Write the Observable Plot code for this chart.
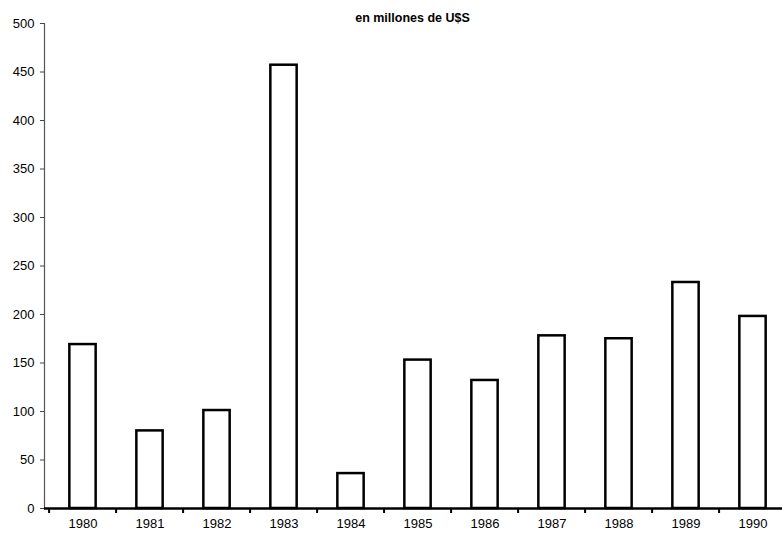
<!DOCTYPE html>
<html>
<head>
<meta charset="utf-8">
<script src="https://cdn.jsdelivr.net/npm/d3@7"></script>
<script src="https://cdn.jsdelivr.net/npm/@observablehq/plot@0.6"></script>
<style>
  html, body { margin: 0; padding: 0; background: #fff; overflow: hidden; }
  #chart svg { display: block; max-width: none !important; }
</style>
</head>
<body>
<div id="chart"></div>
<script>
const years = ["1980","1981","1982","1983","1984","1985","1986","1987","1988","1989","1990"];
const values = [169, 80, 101, 457, 36, 153, 132, 178, 175, 233, 198];
const yTicks = [0, 50, 100, 150, 200, 250, 300, 350, 400, 450, 500];
const title = "en millones de U$S";

const data = years.map((y, i) => ({year: y, value: values[i]}));

const W = 790, H = 541, ML = 44, MR = 0, MT = 23, MB = 33;
const step = (W - ML - MR) / years.length;

const chart = Plot.plot({
  width: W,
  height: H,
  marginLeft: ML,
  marginRight: MR,
  marginTop: MT,
  marginBottom: MB,
  style: {fontFamily: "'Liberation Sans', Arial, sans-serif", fontSize: "13px", color: "#000", background: "#fff"},
  x: {domain: years, padding: 0, label: null},
  y: {domain: [0, 500], label: null},
  marks: [
    Plot.barY(data, {x: "year", y: "value", fill: "white", stroke: "black", strokeWidth: 2.5,
      insetLeft: step * 0.3, insetRight: step * 0.3}),
    Plot.axisY({ticks: yTicks, tickSize: 4, tickPadding: 6, stroke: "#444", fill: "#000", fontSize: 13, label: null}),
    Plot.frame({anchor: "left", stroke: "#555", strokeWidth: 1.2}),
    Plot.ruleY([0], {stroke: "black", strokeWidth: 2.5}),
    Plot.axisX({tickSize: 5, tickFormat: () => "", dx: -step / 2, stroke: "black", strokeWidth: 2, label: null}),
    Plot.axisX({tickSize: 0, tickPadding: 10, fontSize: 13, fill: "#000", label: null}),
    Plot.text([title], {frameAnchor: "top", lineAnchor: "middle", dy: -6, dx: -5, fontWeight: "bold", fontSize: 12.5, fill: "#000"})
  ]
});
document.getElementById("chart").appendChild(chart);
</script>
</body>
</html>
